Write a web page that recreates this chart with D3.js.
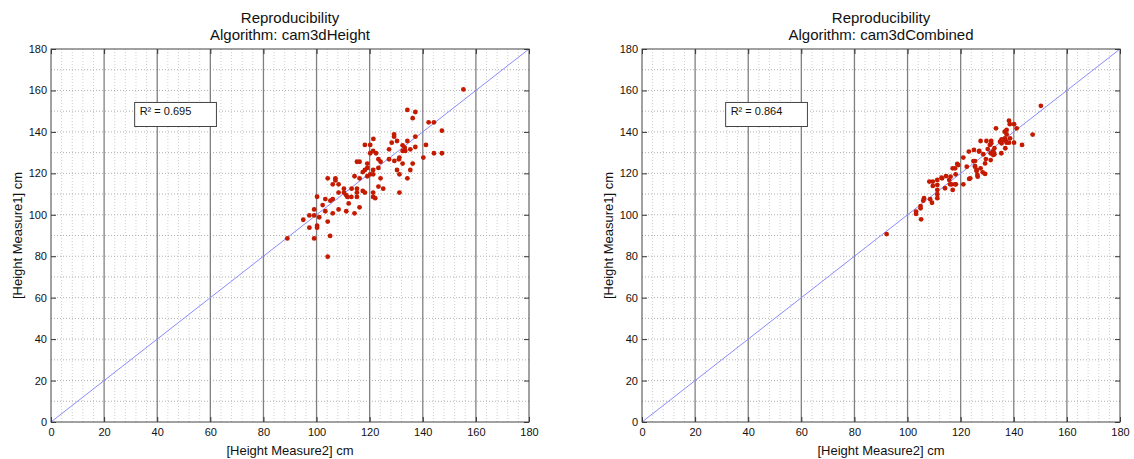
<!DOCTYPE html>
<html>
<head>
<meta charset="utf-8">
<script src="https://cdn.jsdelivr.net/npm/d3@7"></script>
<style>
body{margin:0;background:#fff;}
text{font-family:"Liberation Sans",Arial,Helvetica,sans-serif;fill:#111;}
</style>
</head>
<body>
<div class="plot"></div>
<script>
// cam3dHeight : measure2 (x) vs measure1 (y)
var heightM2 = [155.3,134.2,137.2,136.2,142.2,144.2,147.2,129.2,129.2,128.3,130.3,137.2,134.2,132.4,133.2,132.4,133.4,135.3,137.2,141.2,
	140.2,144.2,147.2,127.3,131.2,131.0,129.3,132.4,136.2,130.3,131.2,135.3,134.2,131.2,121.4,118.2,120.2,120.2,121.3,122.4,
	123.3,124.1,115.2,116.2,119.1,119.1,121.3,118.2,117.4,123.3,127.3,120.2,119.1,121.3,114.3,116.2,124.1,125.1,123.3,121.3,
	121.3,122.1,117.4,118.2,115.2,115.2,115.2,113.2,113.1,110.3,110.3,111.1,111.6,108.3,108.3,106.1,107.1,107.1,104.2,112.1,
	116.2,114.3,111.2,108.3,106.1,106.1,105.2,103.3,103.3,102.3,100.2,99.1,99.1,97.3,101.0,95.0,97.3,100.2,100.2,104.2,
	99.1,89.0,105.1,104.2];
var heightM1 = [160.5,150.6,149.6,146.6,144.6,144.6,140.6,138.8,137.7,134.8,135.6,137.7,135.6,133.5,132.4,130.8,130.8,131.6,132.7,133.7,
	127.6,129.7,129.7,131.6,127.6,126.8,126.0,124.7,124.7,121.6,119.5,121.6,117.6,110.7,136.6,133.7,133.7,129.7,130.8,129.7,
	126.8,125.6,125.6,125.6,124.7,122.6,121.6,121.6,120.6,122.6,126.8,119.5,118.6,119.5,118.6,117.6,117.6,112.6,113.6,110.7,
	108.6,108.0,111.5,110.7,112.6,110.7,108.6,112.6,108.6,112.6,110.7,109.5,108.6,110.7,114.7,114.7,117.6,116.6,117.6,105.5,
	103.6,100.7,101.7,102.6,100.7,107.6,106.8,107.6,101.7,104.7,108.7,102.6,99.7,99.7,98.8,97.6,93.8,94.7,93.8,96.7,
	88.6,88.6,89.8,79.8];

// cam3dCombined : measure2 (x) vs measure1 (y)
var combinedM2 = [150.2,147.1,143.1,138.2,140.1,138.5,137.3,136.6,141.1,140.1,138.2,137.0,135.4,135.4,133.3,136.8,135.3,132.3,131.5,131.5,
	129.7,127.5,126.9,125.0,127.0,123.1,121.0,131.3,132.3,131.3,129.5,129.2,125.4,125.4,126.0,127.5,129.2,126.4,123.6,122.3,
	118.7,117.9,117.0,118.1,116.2,114.5,115.7,113.0,111.2,109.5,108.2,109.5,111.2,111.2,114.1,116.6,117.9,117.0,121.0,111.2,
	111.2,108.5,109.2,106.2,105.9,104.9,104.9,103.2,103.2,105.1,92.1,137.3,136.7,138.6,135.8,134.8,137.3,131.0,132.7,132.1,
	132.7,130.2,128.5,126.0,126.3,128.3,123.2,112.8,116.0,118.2,119.1,124.8,125.4];
var combinedM1 = [152.6,138.7,133.7,145.4,143.7,143.7,140.9,140.1,141.7,134.8,134.8,135.6,136.4,134.5,141.7,132.1,129.7,130.5,134.5,135.6,
	135.6,135.6,130.5,131.3,130.8,130.5,127.6,129.7,128.9,126.4,126.9,124.8,125.9,123.5,121.6,122.4,119.7,118.4,117.6,123.2,
	124.5,122.4,122.4,119.5,118.4,118.7,116.8,117.6,116.8,116.0,116.0,113.9,114.4,112.0,112.8,114.7,114.7,112.0,114.7,109.9,
	108.0,107.5,105.8,108.0,106.8,104.2,103.1,101.5,100.4,97.8,90.7,138.8,136.9,136.9,136.1,135.3,134.8,133.7,132.1,130.5,
	129.2,131.7,129.2,121.1,119.2,120.5,117.3,117.9,114.7,114.7,124.0,125.9,123.2];

var titleLine1 = "Reproducibility";
var algorithms = ["Algorithm: cam3dHeight", "Algorithm: cam3dCombined"];
var r2Labels = ["R\u00b2 = 0.695", "R\u00b2 = 0.864"];
var tickValues = d3.range(0, 181, 20);
var xLabel = "[Height Measure2] cm", yLabel = "[Height Measure1] cm";

var W = 1134, H = 459;
var pw = 478, plotTop = 49, plotBottom = 422;

var svg = d3.select('.plot')
	.append('svg')
	.attr('width', W)
	.attr('height', H);

var panels = [
	{left:51, xs:heightM2, ys:heightM1, title:algorithms[0], r2:r2Labels[0]},
	{left:642, xs:combinedM2, ys:combinedM1, title:algorithms[1], r2:r2Labels[1]}
];

panels.forEach(drawPanel);

function drawPanel(p){
	var x = d3.scaleLinear().domain([0,180]).range([p.left, p.left + pw]),
		y = d3.scaleLinear().domain([0,180]).range([plotBottom, plotTop]);

	var g = svg.append('g');

	g.append('rect')
		.attr('x', x(0)).attr('y', y(180))
		.attr('width', x(180) - x(0)).attr('height', y(0) - y(180))
		.style('fill', '#fff');

	// dotted minor grid, x every 4, y every 10
	g.selectAll('.vminor')
		.data(d3.range(4, 180, 4).filter(function(v){ return v % 20 !== 0; }))
		.enter().append('line')
		.attr('x1', d=>x(d)).attr('x2', d=>x(d))
		.attr('y1', y(0)).attr('y2', y(180))
		.style('stroke', '#cfcfcf').style('stroke-width', 1).style('stroke-dasharray', '1,2');

	g.selectAll('.hminor')
		.data(d3.range(10, 180, 10))
		.enter().append('line')
		.attr('x1', x(0)).attr('x2', x(180))
		.attr('y1', d=>y(d)).attr('y2', d=>y(d))
		.style('stroke', '#b0b0b0').style('stroke-width', 1).style('stroke-dasharray', '1,2');

	// solid major verticals
	g.selectAll('.vmajor')
		.data(d3.range(20, 180, 20))
		.enter().append('line')
		.attr('x1', d=>x(d)).attr('x2', d=>x(d))
		.attr('y1', y(0)).attr('y2', y(180))
		.style('stroke', '#808080').style('stroke-width', 1.3);

	// identity line
	g.append('line')
		.attr('x1', x(0)).attr('y1', y(0))
		.attr('x2', x(180)).attr('y2', y(180))
		.style('stroke', '#8a8aff').style('stroke-width', 1);

	// points
	g.selectAll('.pt')
		.data(p.xs.map(function(d,i){ return [d, p.ys[i]]; }))
		.enter().append('circle')
		.attr('cx', d=>x(d[0])).attr('cy', d=>y(d[1]))
		.attr('r', 2.4)
		.style('fill', '#c41a00');

	// axes
	var xa = g.append('g').attr('transform', 'translate(0,' + plotBottom + ')')
		.call(d3.axisBottom(x).tickValues(tickValues).tickSizeInner(-5).tickSizeOuter(0).tickPadding(6));
	var ya = g.append('g').attr('transform', 'translate(' + p.left + ',0)')
		.call(d3.axisLeft(y).tickValues(tickValues).tickSizeInner(-5).tickSizeOuter(0).tickPadding(4));
	var xt = g.append('g').attr('transform', 'translate(0,' + plotTop + ')')
		.call(d3.axisTop(x).tickValues(tickValues).tickSizeInner(-5).tickSizeOuter(0).tickFormat(''));
	var yr = g.append('g').attr('transform', 'translate(' + (p.left + pw) + ',0)')
		.call(d3.axisRight(y).tickValues(tickValues).tickSizeInner(-5).tickSizeOuter(0).tickFormat(''));
	[xa, ya, xt, yr].forEach(function(a){
		a.select('.domain').remove();
		a.selectAll('line').style('stroke', '#333');
		a.selectAll('text').style('font-size', '11px').style('font-family', '"Liberation Sans",Arial,sans-serif').style('fill', '#111');
	});

	g.append('rect')
		.attr('x', x(0)).attr('y', y(180))
		.attr('width', x(180) - x(0)).attr('height', y(0) - y(180))
		.style('fill', 'none').style('stroke', '#444').style('stroke-width', 1);

	// R² box
	var bx = x(31.5), by = y(154.2);
	g.append('rect')
		.attr('x', bx).attr('y', by)
		.attr('width', x(62.3) - bx).attr('height', y(142.6) - by)
		.style('fill', '#fff').style('stroke', '#444').style('stroke-width', 1);
	g.append('text')
		.attr('x', bx + 5).attr('y', by + 12.5)
		.style('font-size', '11px')
		.text(p.r2);

	// titles and labels
	var cx = p.left + pw / 2;
	g.append('text').attr('x', cx).attr('y', 23).attr('text-anchor', 'middle')
		.style('font-size', '15px').text(titleLine1);
	g.append('text').attr('x', cx).attr('y', 40).attr('text-anchor', 'middle')
		.style('font-size', '15px').text(p.title);
	g.append('text').attr('x', cx).attr('y', 455).attr('text-anchor', 'middle')
		.style('font-size', '13px').text(xLabel);
	g.append('text')
		.attr('transform', 'translate(' + (p.left - 29) + ',' + ((plotTop + plotBottom) / 2) + ') rotate(-90)')
		.attr('text-anchor', 'middle')
		.style('font-size', '13px').text(yLabel);
}
</script>
</body>
</html>
